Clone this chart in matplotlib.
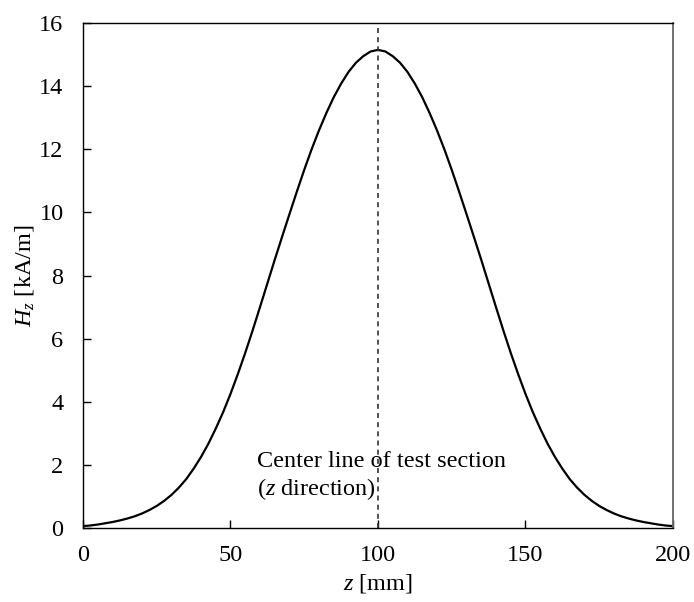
import matplotlib
matplotlib.use("Agg")
import matplotlib.pyplot as plt

plt.rcParams["font.family"] = ["Liberation Serif", "DejaVu Serif"]
plt.rcParams["mathtext.fontset"] = "custom"
plt.rcParams["mathtext.rm"] = "Liberation Serif"
plt.rcParams["mathtext.it"] = "Liberation Serif:italic"

# axial field profile along the test-section centre line
z_mm = [0, 2.5, 5, 7.5, 10, 12.5, 15, 17.5, 20, 22.5, 25, 27.5, 30, 32.5,
        35, 37.5, 40, 42.5, 45, 47.5, 50, 52.5, 55, 57.5, 60, 62.5, 65,
        67.5, 70, 72.5, 75, 77.5, 80, 82.5, 85, 87.5, 90, 92.5, 95, 97.5,
        100, 102.5, 105, 107.5, 110, 112.5, 115, 117.5, 120, 122.5, 125,
        127.5, 130, 132.5, 135, 137.5, 140, 142.5, 145, 147.5, 150, 152.5,
        155, 157.5, 160, 162.5, 165, 167.5, 170, 172.5, 175, 177.5, 180,
        182.5, 185, 187.5, 190, 192.5, 195, 197.5, 200]
hz_kam = [0.06, 0.08, 0.11, 0.15, 0.19, 0.24, 0.30, 0.37, 0.46, 0.57, 0.70,
          0.86, 1.05, 1.28, 1.55, 1.88, 2.25, 2.67, 3.15, 3.67, 4.25, 4.88,
          5.55, 6.26, 7.00, 7.75, 8.50, 9.23, 9.95, 10.66, 11.35, 12.00,
          12.60, 13.15, 13.65, 14.08, 14.45, 14.74, 14.95, 15.10, 15.15,
          15.10, 14.95, 14.74, 14.45, 14.08, 13.65, 13.15, 12.60, 12.00,
          11.35, 10.66, 9.95, 9.23, 8.50, 7.75, 7.00, 6.26, 5.55, 4.88, 4.25,
          3.67, 3.15, 2.67, 2.25, 1.88, 1.55, 1.28, 1.05, 0.86, 0.70, 0.57,
          0.46, 0.37, 0.30, 0.24, 0.19, 0.15, 0.11, 0.08, 0.06]

x_ticks = [0, 50, 100, 150, 200]
y_ticks = [0, 2, 4, 6, 8, 10, 12, 14, 16]
center_z = 100

fs = 17.5

fig = plt.figure(figsize=(6.94, 6.02), dpi=100)
ax = fig.add_axes([0.1196, 0.1229, 0.8501, 0.8388])

ax.plot(z_mm, hz_kam, color="black", lw=1.6)
ax.axvline(center_z, color="#333333", lw=1.2, ls=(0, (3, 2.5)))

ax.text(59, 1.63, "Center line of test section\n($z$ direction)",
        fontsize=fs, ha="left", va="center", linespacing=1.25)

ax.set_xlim(0, 200)
ax.set_ylim(0, 16)
ax.set_xticks(x_ticks)
ax.set_yticks(y_ticks)
ax.tick_params(direction="in", length=6, width=1, labelsize=fs,
               top=False, right=False)
ax.tick_params(axis="x", pad=12.5)
ax.tick_params(axis="y", pad=14)

ax.set_xlabel("$z$ [mm]", fontsize=fs, labelpad=4)
ax.set_ylabel("$H_z$ [kA/m]", fontsize=fs, labelpad=2)

for side in ["left", "top", "bottom"]:
    ax.spines[side].set_color("black")
    ax.spines[side].set_linewidth(1.0)
ax.spines["right"].set_color("#666666")
ax.spines["right"].set_linewidth(1.3)

fig.savefig("out.png", dpi=100)
